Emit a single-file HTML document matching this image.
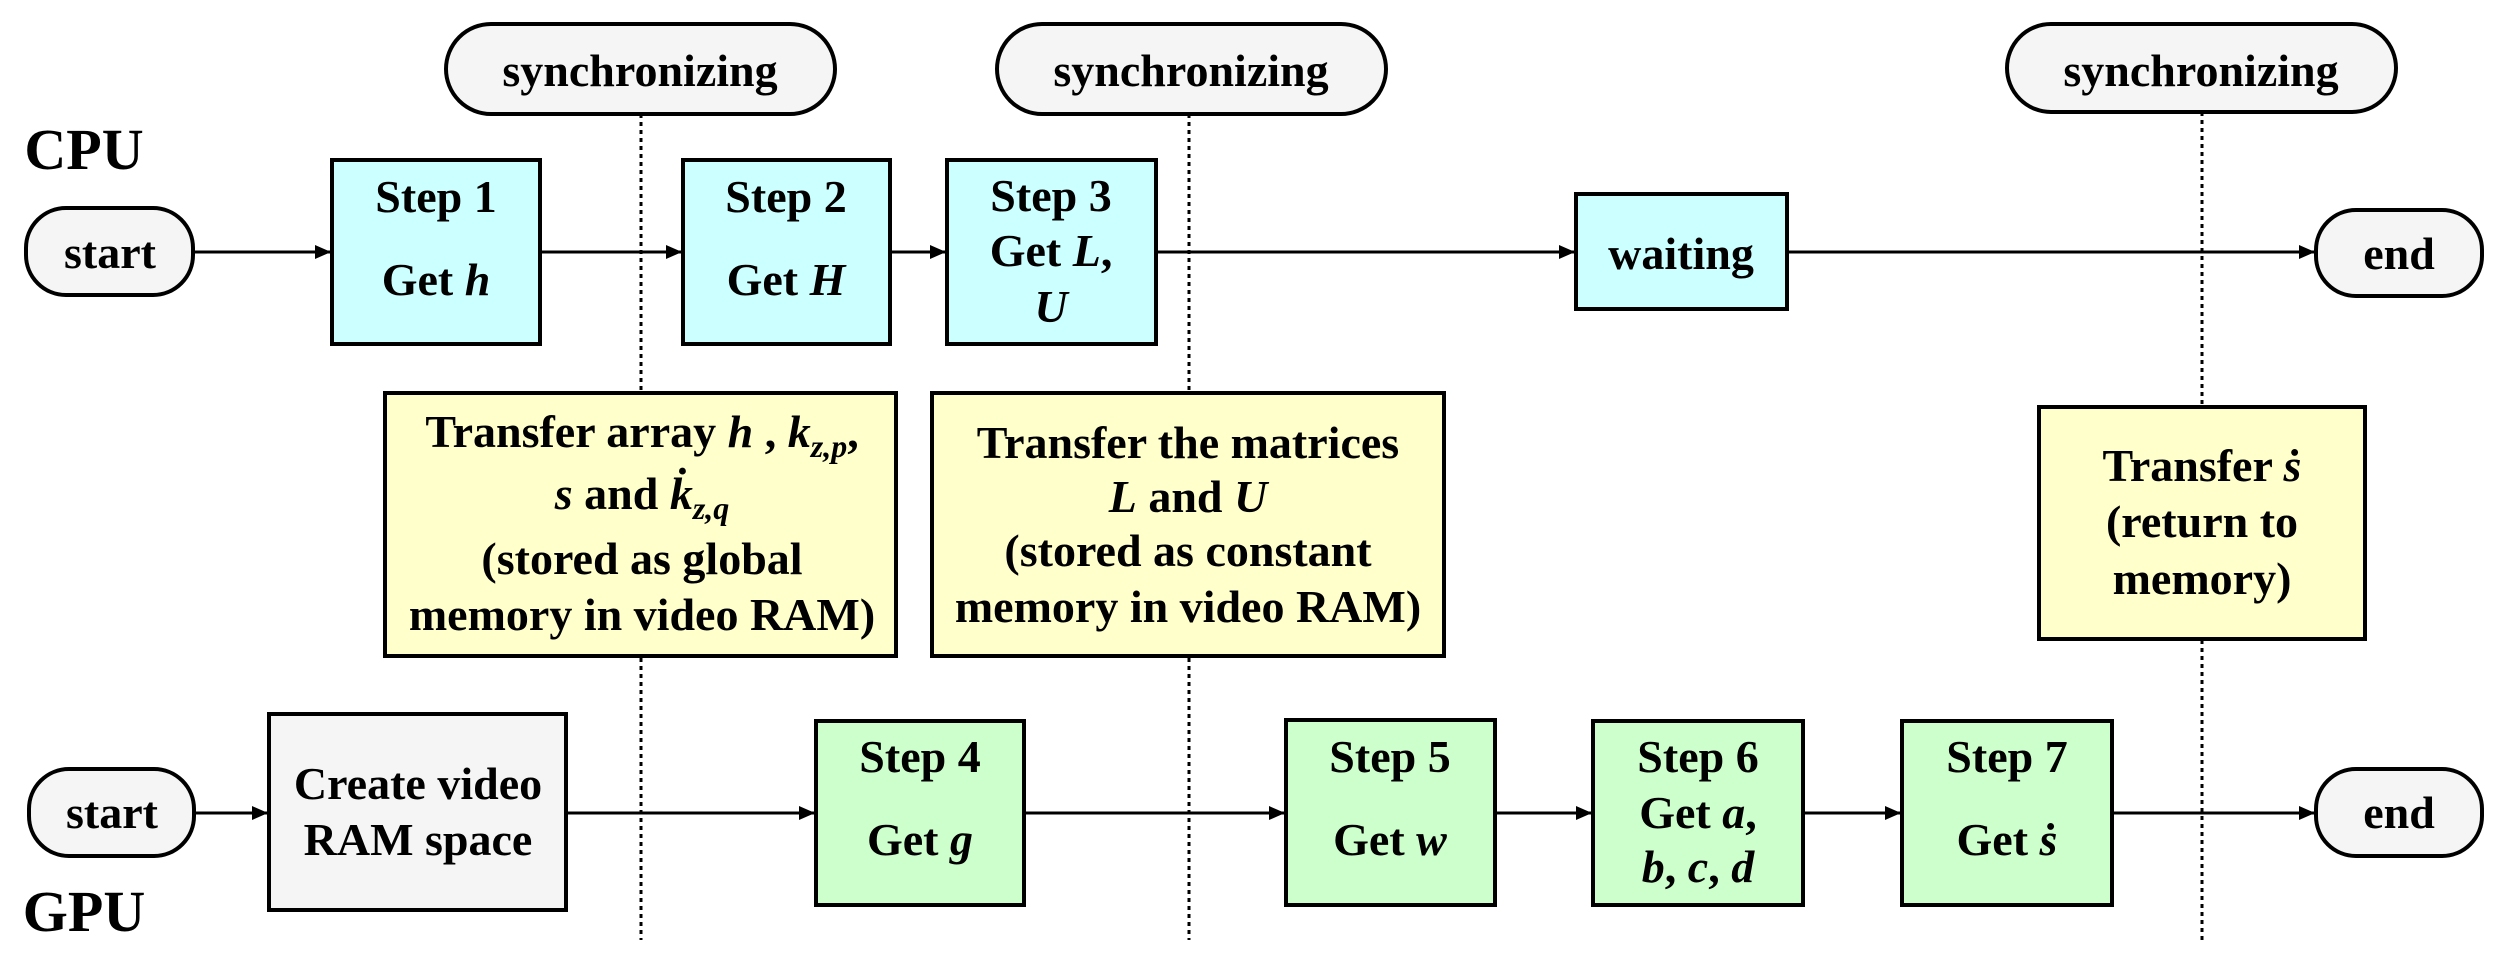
<!DOCTYPE html>
<html><head><meta charset="utf-8"><style>
html,body{margin:0;padding:0;background:#fff}
svg{display:block}
text{font-family:"Liberation Serif",serif;font-weight:bold;font-size:46px;fill:#000;text-anchor:middle}
.i{font-style:italic}
</style></head><body>
<svg width="2504" height="963" viewBox="0 0 2504 963" xmlns="http://www.w3.org/2000/svg">
<defs><marker id="a" markerWidth="16" markerHeight="14" refX="15" refY="7" orient="auto" markerUnits="userSpaceOnUse"><path d="M0,0 L16,7 L0,14 z" fill="#000"/></marker></defs>
<g stroke="#000" stroke-width="3" stroke-dasharray="4,4">
<line x1="641" y1="114" x2="641" y2="940"/>
<line x1="1189" y1="114" x2="1189" y2="940"/>
<line x1="2202" y1="112" x2="2202" y2="940"/>
</g>
<g stroke="#000" stroke-width="4">
<rect x="446" y="24" width="389" height="90" rx="45" fill="#f5f5f5"/>
<rect x="997" y="24" width="389" height="90" rx="45" fill="#f5f5f5"/>
<rect x="2007" y="24" width="389" height="88" rx="44" fill="#f5f5f5"/>
<rect x="26" y="208" width="167" height="87" rx="40" fill="#f5f5f5"/>
<rect x="29" y="769" width="165" height="87" rx="40" fill="#f5f5f5"/>
<rect x="2316" y="210" width="166" height="86" rx="40" fill="#f5f5f5"/>
<rect x="2316" y="769" width="166" height="87" rx="40" fill="#f5f5f5"/>
<rect x="332" y="160" width="208" height="184" fill="#ccffff"/>
<rect x="683" y="160" width="207" height="184" fill="#ccffff"/>
<rect x="947" y="160" width="209" height="184" fill="#ccffff"/>
<rect x="1576" y="194" width="211" height="115" fill="#ccffff"/>
<rect x="385" y="393" width="511" height="263" fill="#ffffcc"/>
<rect x="932" y="393" width="512" height="263" fill="#ffffcc"/>
<rect x="2039" y="407" width="326" height="232" fill="#ffffcc"/>
<rect x="269" y="714" width="297" height="196" fill="#f5f5f5"/>
<rect x="816" y="721" width="208" height="184" fill="#ccffcc"/>
<rect x="1286" y="720" width="209" height="185" fill="#ccffcc"/>
<rect x="1593" y="721" width="210" height="184" fill="#ccffcc"/>
<rect x="1902" y="721" width="210" height="184" fill="#ccffcc"/>
</g>
<g stroke="#000" stroke-width="3" marker-end="url(#a)">
<line x1="193" y1="252" x2="330" y2="252"/>
<line x1="540" y1="252" x2="681" y2="252"/>
<line x1="890" y1="252" x2="945" y2="252"/>
<line x1="1156" y1="252" x2="1574" y2="252"/>
<line x1="1787" y1="252" x2="2314" y2="252"/>
<line x1="194" y1="813" x2="267" y2="813"/>
<line x1="566" y1="813" x2="814" y2="813"/>
<line x1="1024" y1="813" x2="1284" y2="813"/>
<line x1="1495" y1="813" x2="1591" y2="813"/>
<line x1="1803" y1="813" x2="1900" y2="813"/>
<line x1="2112" y1="813" x2="2314" y2="813"/>
</g>
<text x="640" y="86">synchronizing</text>
<text x="1191" y="86">synchronizing</text>
<text x="2201" y="86">synchronizing</text>
<text x="84" y="169" style="font-size:58px">CPU</text>
<text x="84" y="931" style="font-size:58px">GPU</text>
<text x="110" y="268">start</text>
<text x="112" y="828">start</text>
<text x="2399" y="269">end</text>
<text x="2399" y="828">end</text>
<text x="436" y="212">Step 1</text>
<text x="436" y="295">Get <tspan class="i">h</tspan></text>
<text x="786" y="212">Step 2</text>
<text x="786" y="295">Get <tspan class="i">H</tspan></text>
<text x="1051" y="211">Step 3</text>
<text x="1051" y="266">Get <tspan class="i">L</tspan>,</text>
<text x="1051" y="322" class="i">U</text>
<text x="1681" y="269">waiting</text>
<text x="642" y="447">Transfer array <tspan class="i">h</tspan> , <tspan class="i">k<tspan style="font-size:32px" dy="10">z,p</tspan></tspan><tspan dy="-10">,</tspan></text>
<text x="642" y="509"><tspan class="i">s</tspan> and <tspan class="i">k̇<tspan style="font-size:32px" dy="10">z,q</tspan></tspan></text>
<text x="642" y="574">(stored as global</text>
<text x="642" y="630">memory in video RAM)</text>
<text x="1188" y="458">Transfer the matrices</text>
<text x="1188" y="512"><tspan class="i">L</tspan> and <tspan class="i">U</tspan></text>
<text x="1188" y="566">(stored as constant</text>
<text x="1188" y="622">memory in video RAM)</text>
<text x="2202" y="481">Transfer <tspan class="i">ṡ</tspan></text>
<text x="2202" y="537">(return to</text>
<text x="2202" y="594">memory)</text>
<text x="418" y="799">Create video</text>
<text x="418" y="855">RAM space</text>
<text x="920" y="772">Step 4</text>
<text x="920" y="855">Get <tspan class="i">g</tspan></text>
<text x="1390" y="772">Step 5</text>
<text x="1390" y="855">Get <tspan class="i">w</tspan></text>
<text x="1698" y="772">Step 6</text>
<text x="1698" y="828">Get <tspan class="i">a</tspan>,</text>
<text x="1698" y="882"><tspan class="i">b</tspan>, <tspan class="i">c</tspan>, <tspan class="i">d</tspan></text>
<text x="2007" y="772">Step 7</text>
<text x="2007" y="855">Get <tspan class="i">ṡ</tspan></text>
</svg>
</body></html>
